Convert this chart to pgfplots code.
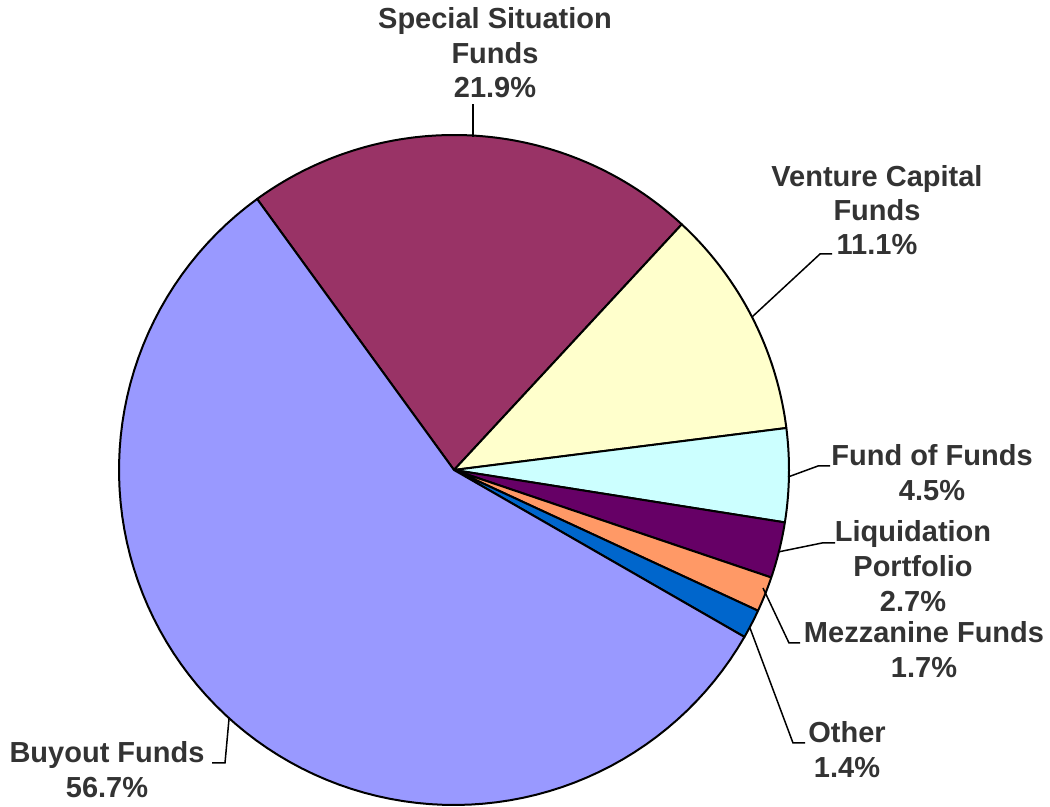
\documentclass[border=0pt]{standalone}
\usepackage{pgfplots}
\pgfplotsset{compat=1.18}
\usepackage{fontspec}
\setmainfont{Liberation Sans}
\definecolor{cBuy}{HTML}{9999FF}
\definecolor{cSpec}{HTML}{993366}
\definecolor{cVen}{HTML}{FFFFCC}
\definecolor{cFoF}{HTML}{CCFFFF}
\definecolor{cLiq}{HTML}{660066}
\definecolor{cMez}{HTML}{FF9966}
\definecolor{cOth}{HTML}{0066CC}
\definecolor{txt}{HTML}{333333}
% #1 cumulative share before this slice, #2 share (%), #3 colour
\newcommand\slice[3]{%
  \pgfmathsetmacro\aS{126.0-3.6*#1}%
  \pgfmathsetmacro\aE{126.0-3.6*(#1+#2)}%
  \addplot[draw=black, line width=2bp, line join=round, fill=#3,
    domain=\aE:\aS, samples=90, variable=\t]
    ({454+335*cos(\t)},{-470+335*sin(\t)}) -- (axis cs:454,-470) -- cycle;
}
\newcommand\lab[3]{\node[anchor=base, text=txt, font=\bfseries\fontsize{29bp}{35bp}\selectfont, inner sep=0pt] at (axis cs:#1,-#2) {#3};}
\begin{document}
\begin{tikzpicture}
\begin{axis}[x=1bp, y=1bp, xmin=0, xmax=1050, ymin=-807, ymax=0,
  enlargelimits=false, hide axis, scale only axis, clip=false]
\path (axis cs:0,0) rectangle (axis cs:1050,-807);
\slice{0}{21.9}{cSpec}
\slice{21.9}{11.1}{cVen}
\slice{33.0}{4.5}{cFoF}
\slice{37.5}{2.7}{cLiq}
\slice{40.2}{1.7}{cMez}
\slice{41.9}{1.4}{cOth}
\slice{43.3}{56.7}{cBuy}
% leader lines
\begin{scope}[line width=1.5bp, black]
\draw (axis cs:473,-137) -- (axis cs:473,-104);
\draw (axis cs:752,-317) -- (axis cs:820,-254) -- (axis cs:832,-254);
\draw (axis cs:788,-477) -- (axis cs:818,-466) -- (axis cs:830,-466);
\draw (axis cs:778,-552) -- (axis cs:822,-543) -- (axis cs:835,-543);
\draw (axis cs:763,-588) -- (axis cs:789,-643) -- (axis cs:800,-643);
\draw (axis cs:750,-628) -- (axis cs:793,-743) -- (axis cs:805,-743);
\draw (axis cs:229,-719) -- (axis cs:225,-763) -- (axis cs:212,-763);
\end{scope}
% labels
\lab{495}{29}{Special Situation}
\lab{495}{63.5}{Funds}
\lab{495}{98}{21.9\%}
\lab{877}{187}{Venture Capital}
\lab{877}{221}{Funds}
\lab{877}{255}{11.1\%}
\lab{932}{466}{Fund of Funds}
\lab{932}{501}{4.5\%}
\lab{913}{542}{Liquidation}
\lab{913}{577}{Portfolio}
\lab{913}{612}{2.7\%}
\lab{924}{643}{Mezzanine Funds}
\lab{924}{678}{1.7\%}
\lab{847}{743}{Other}
\lab{847}{778}{1.4\%}
\lab{107}{763}{Buyout Funds}
\lab{107}{798}{56.7\%}
\end{axis}
\end{tikzpicture}
\end{document}
